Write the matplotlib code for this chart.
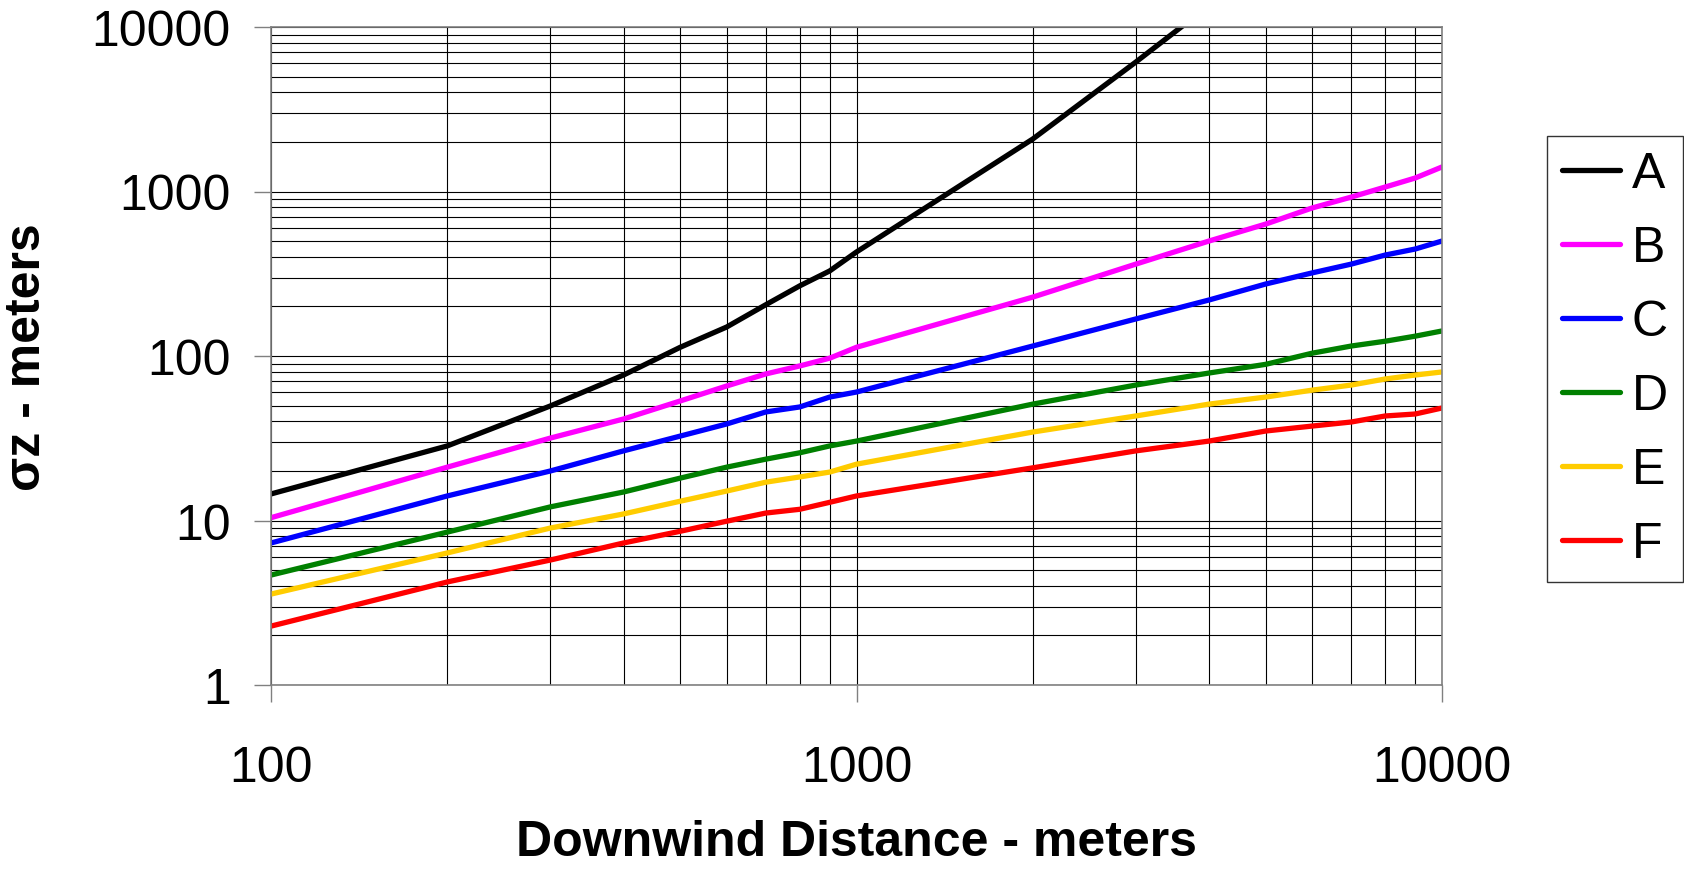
import matplotlib
matplotlib.use('Agg')
import matplotlib.pyplot as plt
from matplotlib.ticker import FixedLocator, LogLocator, NullFormatter

plt.rcParams['font.family'] = ['Liberation Sans', 'DejaVu Sans']

# downwind distance (m)
x = [100, 200, 300, 400, 500, 600, 700, 800, 900, 1000,
     2000, 3000, 4000, 5000, 6000, 7000, 8000, 9000, 10000]

# sigma z (m) per stability class
sz_a = [14.5, 28.4, 49.7, 76.6, 113, 150, 205, 267, 329, 429,
        2085, 6125, 13500]
sz_b = [10.4, 21.1, 31.7, 41.4, 53.3, 65.7, 77.8, 87, 97, 113,
        228, 362, 500, 634, 794, 925, 1065, 1208, 1410]
sz_c = [7.3, 14.1, 20.0, 26.5, 32.6, 38.6, 45.7, 49, 56.3, 60.4,
        115, 168, 219, 274, 320, 362, 411, 447, 500]
sz_d = [4.66, 8.5, 12.1, 14.9, 18.1, 21.1, 23.6, 25.8, 28.4, 30.4,
        51, 66.6, 78.8, 89, 104, 115, 123, 132, 142]
sz_e = [3.57, 6.35, 9.0, 10.96, 13.1, 15.1, 17.1, 18.4, 19.7, 22,
        34.5, 43.2, 51, 56.3, 62, 66.6, 72.5, 76.6, 80]
sz_f = [2.28, 4.23, 5.75, 7.3, 8.6, 9.9, 11.1, 11.7, 12.9, 14.1,
        20.9, 26.5, 30.4, 35, 37.5, 39.7, 43.2, 44.4, 48.3]

labels = ['A', 'B', 'C', 'D', 'E', 'F']
series = [sz_a, sz_b, sz_c, sz_d, sz_e, sz_f]
colors = ['#000000', '#FF00FF', '#0000FF', '#008000', '#FFCC00', '#FF0000']

xticks = [100, 1000, 10000]
yticks = [1, 10, 100, 1000, 10000]

fig = plt.figure(figsize=(16.84, 8.79), dpi=100)
ax = fig.add_axes([271/1684, 1-686/879, (1442-271)/1684, (686-28)/879])

for lab, ys, c in zip(labels, series, colors):
    ax.plot(x[:len(ys)], ys, color=c, lw=3.8, label=lab,
            solid_joinstyle='round', solid_capstyle='round')

ax.set_xscale('log')
ax.set_yscale('log')
ax.set_xlim(100, 10000)
ax.set_ylim(1, 10000)

ax.xaxis.set_major_locator(FixedLocator(xticks))
ax.yaxis.set_major_locator(FixedLocator(yticks))
ax.set_xticklabels([str(v) for v in xticks])
ax.set_yticklabels([str(v) for v in yticks])
ax.xaxis.set_minor_locator(LogLocator(base=10, subs=range(2, 10)))
ax.yaxis.set_minor_locator(LogLocator(base=10, subs=range(2, 10)))
ax.xaxis.set_minor_formatter(NullFormatter())
ax.yaxis.set_minor_formatter(NullFormatter())

ax.tick_params(which='major', length=12, width=1, color='#808080',
               labelsize=36, direction='out')
ax.tick_params(axis='x', which='major', pad=31)
ax.tick_params(axis='y', which='major', pad=17)
ax.tick_params(which='minor', length=0)

ax.grid(which='both', color='black', lw=0.8)
ax.set_axisbelow(True)
for s in ax.spines.values():
    s.set_color('#808080')
    s.set_linewidth(1.2)

ax.set_xlabel('Downwind Distance - meters', fontsize=36, fontweight='bold',
              labelpad=20)
ax.set_ylabel('σz - meters', fontsize=36, fontweight='bold')
ax.yaxis.set_label_coords(-(271-50)/1171, 0.5)

leg = ax.legend(loc='upper left', bbox_to_anchor=(1547/1684, 1-137/879),
                bbox_transform=fig.transFigure, borderaxespad=0,
                fontsize=36, frameon=True, fancybox=False, edgecolor='black',
                handlelength=1.15, handletextpad=0.25, labelspacing=0.56,
                borderpad=0.3)
leg.get_frame().set_linewidth(1.0)

fig.savefig('out.png', dpi=100)
